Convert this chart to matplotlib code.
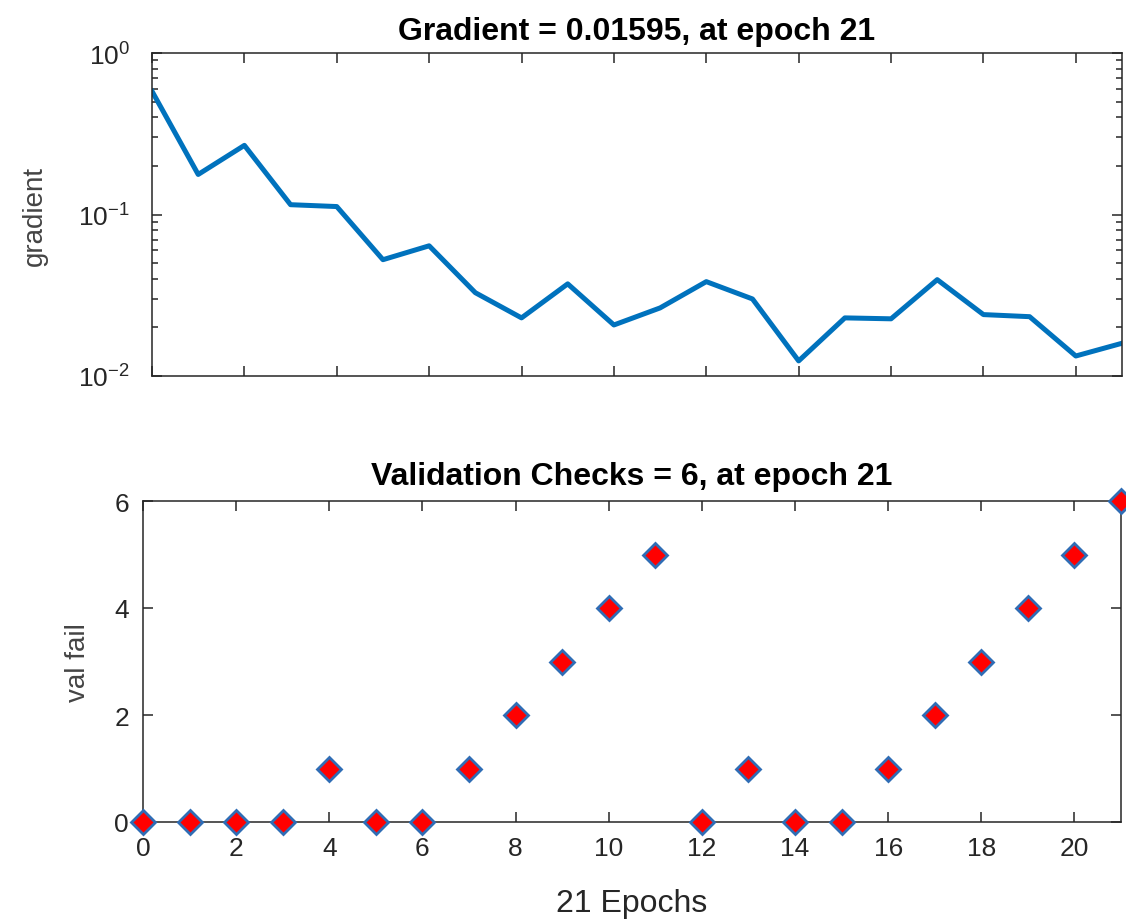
import matplotlib
matplotlib.use("Agg")
import matplotlib.pyplot as plt
import numpy as np

epochs = list(range(0, 22))
gradient = [0.58, 0.177, 0.268, 0.115, 0.112, 0.0525, 0.064, 0.0328, 0.0229, 0.0372,
            0.0207, 0.0264, 0.0384, 0.030, 0.0124, 0.0229, 0.0226, 0.0395, 0.024, 0.0233,
            0.0133, 0.01595]
val_fail = [0, 0, 0, 0, 1, 0, 0, 1, 2, 3, 4, 5, 0, 1, 0, 0, 1, 2, 3, 4, 5, 6]

title_top = "Gradient = 0.01595, at epoch 21"
title_bot = "Validation Checks = 6, at epoch 21"
xlabel = "21 Epochs"

plt.rcParams['font.family'] = ['Liberation Sans', 'DejaVu Sans']
axcol = '#262626'
blue = '#0072BD'

fig = plt.figure(figsize=(11.26, 9.2), dpi=100)

# top: gradient
ax1 = fig.add_axes([152 / 1126, 1 - 377 / 920, 970 / 1126, 323 / 920])
ax1.semilogy(epochs, gradient, color=blue, lw=3.6)
ax1.set_xlim(0, 21)
ax1.set_ylim(0.01, 1)
ax1.set_xticks(range(0, 21, 2))
ax1.set_xticklabels([])
ax1.set_title(title_top, fontsize=23, fontweight='bold', pad=10)
ax1.set_ylabel("gradient", fontsize=20, color='#444444', labelpad=22)

# bottom: validation checks
ax2 = fig.add_axes([143 / 1126, 1 - 823 / 920, 978 / 1126, 321 / 920])
ax2.plot(epochs, val_fail, linestyle='none', marker='D', markersize=12,
         markerfacecolor='#FF0000', markeredgecolor='#2F6DB5', markeredgewidth=2,
         clip_on=False, zorder=5)
ax2.set_xlim(0, 21)
ax2.set_ylim(0, 6)
ax2.set_xticks(range(0, 21, 2))
ax2.set_yticks([0, 2, 4, 6])
ax2.set_title(title_bot, fontsize=23, fontweight='bold', pad=12)
ax2.set_xlabel(xlabel, fontsize=23, color=axcol, labelpad=20)
ax2.set_ylabel("val fail", fontsize=20, color='#444444', labelpad=17)

for ax in (ax1, ax2):
    for s in ax.spines.values():
        s.set_color(axcol)
        s.set_linewidth(1.1)
    ax.tick_params(which='both', direction='in', top=True, right=True,
                   colors=axcol, labelsize=19, width=1.1)
    ax.tick_params(which='major', length=7)
    ax.tick_params(which='minor', length=4)
    ax.tick_params(axis='x', pad=10)
ax1.tick_params(axis='y', pad=16)
ax2.tick_params(axis='y', pad=10)

fig.savefig("out.png", dpi=100)
